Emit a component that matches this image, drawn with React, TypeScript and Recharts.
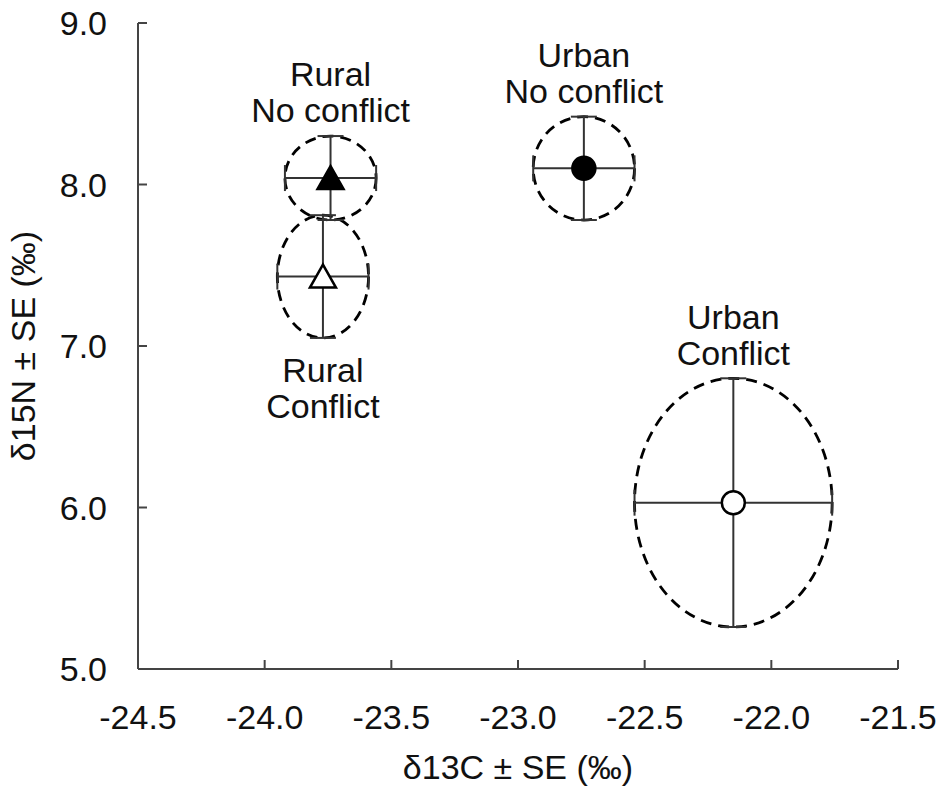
import {
  ScatterChart,
  Scatter,
  XAxis,
  YAxis,
  ErrorBar,
  ReferenceArea,
} from "recharts";

// group means and standard errors
const groups = ["Rural No conflict", "Rural Conflict", "Urban No conflict", "Urban Conflict"];
const labelLines = [
  ["Rural", "No conflict"],
  ["Rural", "Conflict"],
  ["Urban", "No conflict"],
  ["Urban", "Conflict"],
];
const d13C = [-23.74, -23.77, -22.74, -22.15];
const d15N = [8.04, 7.43, 8.1, 6.03];
const seC = [0.18, 0.18, 0.2, 0.39];
const seN = [0.26, 0.38, 0.32, 0.77];

const xTicks = [-24.5, -24.0, -23.5, -23.0, -22.5, -22.0, -21.5];
const yTicks = [5.0, 6.0, 7.0, 8.0, 9.0];

const FONT = "'Liberation Sans', Arial, sans-serif";
const FS = 34;
const INK = "#111";
const AXIS = "#444";

const markerStyle: Record<string, { kind: "triangle" | "circle"; fill: string }> = {
  "Rural No conflict": { kind: "triangle", fill: "#000" },
  "Rural Conflict": { kind: "triangle", fill: "#fff" },
  "Urban No conflict": { kind: "circle", fill: "#000" },
  "Urban Conflict": { kind: "circle", fill: "#fff" },
};

// which side of the ellipse the group label sits on
const labelBelow: Record<string, boolean> = {
  "Rural Conflict": true,
};

const rows = groups.map((name, i) => ({
  name,
  x: d13C[i],
  y: d15N[i],
  xErr: seC[i],
  yErr: seN[i],
}));

function Marker(props: any) {
  const { cx, cy, payload } = props;
  if (cx == null || cy == null) return null;
  const st = markerStyle[payload.name];
  if (st.kind === "circle") {
    return <circle cx={cx} cy={cy} r={11.5} fill={st.fill} stroke="#000" strokeWidth={2.5} />;
  }
  const pts = `${cx},${cy - 12} ${cx - 13},${cy + 11} ${cx + 13},${cy + 11}`;
  return <polygon points={pts} fill={st.fill} stroke="#000" strokeWidth={2.5} strokeLinejoin="miter" />;
}

function ellipseShape(idx: number) {
  const name = groups[idx];
  const lines = labelLines[idx];
  const below = !!labelBelow[name];
  return (p: any) => {
    const w = Math.abs(p.width);
    const h = Math.abs(p.height);
    const cx = p.x + w / 2;
    const cy = p.y + h / 2;
    const lineGap = 36;
    const first = below ? p.y + h + 32 : p.y - 26 - lineGap * (lines.length - 1);
    return (
      <g>
        <ellipse
          cx={cx}
          cy={cy}
          rx={w / 2}
          ry={h / 2}
          fill="none"
          stroke="#000"
          strokeWidth={2.8}
          strokeDasharray="11 7"
        />
        {lines.map((t, k) => (
          <text
            key={k}
            x={cx}
            y={first + k * lineGap}
            dy="0.36em"
            textAnchor="middle"
            fontSize={FS}
            fontFamily={FONT}
            fill={INK}
          >
            {t}
          </text>
        ))}
      </g>
    );
  };
}

export default function App() {
  return (
    <div style={{ position: "absolute", left: 0, top: 0, background: "#fff", fontFamily: FONT }}>
      <ScatterChart width={943} height={787} margin={{ top: 23, right: 45, bottom: 0, left: 0 }}>
        <XAxis
          type="number"
          dataKey="x"
          domain={[-24.5, -21.5]}
          ticks={xTicks}
          interval={0}
          allowDataOverflow
          tickFormatter={(v: number) => v.toFixed(1)}
          tickSize={-9}
          tickMargin={45}
          height={118}
          stroke={AXIS}
          strokeWidth={2}
          tick={{ fontSize: FS, fill: INK, fontFamily: FONT }}
          label={{
            value: "δ13C ± SE (‰)",
            position: "insideBottom",
            offset: 8,
            fontSize: FS,
            fill: INK,
            fontFamily: FONT,
          }}
        />
        <YAxis
          type="number"
          dataKey="y"
          domain={[5, 9]}
          ticks={yTicks}
          interval={0}
          allowDataOverflow
          tickFormatter={(v: number) => v.toFixed(1)}
          tickSize={-9}
          tickMargin={40}
          width={138}
          stroke={AXIS}
          strokeWidth={2}
          tick={{ fontSize: FS, fill: INK, fontFamily: FONT }}
          label={{
            value: "δ15N ± SE (‰)",
            angle: -90,
            position: "insideLeft",
            offset: 23,
            fontSize: FS,
            fill: INK,
            fontFamily: FONT,
            style: { textAnchor: "middle" },
          }}
        />
        {rows.map((r, i) => (
          <ReferenceArea
            key={r.name}
            x1={r.x - r.xErr}
            x2={r.x + r.xErr}
            y1={r.y - r.yErr}
            y2={r.y + r.yErr}
            ifOverflow="visible"
            shape={ellipseShape(i)}
          />
        ))}
        <Scatter data={rows} shape={<Marker />} isAnimationActive={false}>
          <ErrorBar dataKey="xErr" direction="x" width={13} stroke="#333" strokeWidth={2} />
          <ErrorBar dataKey="yErr" direction="y" width={13} stroke="#333" strokeWidth={2} />
        </Scatter>
      </ScatterChart>
    </div>
  );
}
